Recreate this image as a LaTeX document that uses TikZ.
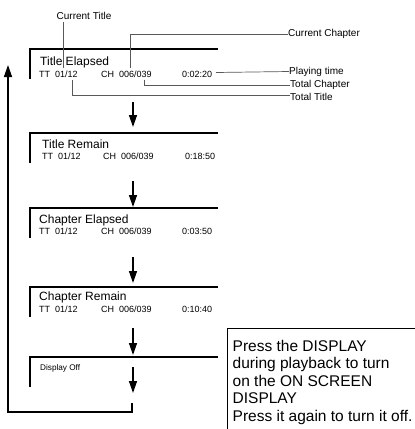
\documentclass[tikz,border=0pt]{standalone}
\usepackage{fontspec}
\setmainfont{Liberation Sans}
\usetikzlibrary{arrows.meta}
\begin{document}
\begin{tikzpicture}[x=1pt,y=-1pt,
 boxtop/.style={line width=2pt},
 boxside/.style={line width=1.4pt},
 flowarrow/.style={line width=1.4pt,-{Triangle[length=12pt,width=8pt]}},
 leader/.style={line width=0.7pt,draw=black!65},
 ttl/.style={anchor=base west,inner sep=0pt,font=\fontsize{12}{14}\selectfont},
 infotxt/.style={anchor=base west,inner sep=0pt,font=\fontsize{9}{11}\selectfont},
 smalltxt/.style={anchor=base west,inner sep=0pt,font=\fontsize{8.2}{10}\selectfont},
 lbl/.style={anchor=west,inner sep=0pt,font=\fontsize{10}{12}\selectfont},
 msg/.style={anchor=base west,inner sep=0pt,font=\fontsize{15.5}{17.5}\selectfont},
]
\useasboundingbox (0,0) rectangle (415,429);
\fill[white] (0,0) rectangle (415,429);

% ---- box 1: Title Elapsed
\draw[boxtop] (29.3,49) -- (218,49);
\draw[boxside] (30,49) -- (30,79);
\node[ttl] (t1) at (40,65) {Title Elapsed};
\node[infotxt] (tt1) at (39,77) {TT\ \ 01/12};
\node[infotxt] (ch1) at (101,77) {CH\ \ 006/039};
\node[infotxt] (tm1) at (182,77) {0:02:20};

% ---- box 2: Title Remain
\draw[boxtop] (29.3,133) -- (218,133);
\draw[boxside] (30,133) -- (30,163);
\node[ttl] (t2) at (42,148) {Title Remain};
\node[infotxt] (tt2) at (42,159) {TT\ \ 01/12};
\node[infotxt] (ch2) at (103,159) {CH\ \ 006/039};
\node[infotxt] (tm2) at (185,159) {0:18:50};

% ---- box 3: Chapter Elapsed
\draw[boxtop] (29.3,208) -- (218,208);
\draw[boxside] (30,208) -- (30,238);
\node[ttl] (t3) at (39,223) {Chapter Elapsed};
\node[infotxt] (tt3) at (39,234) {TT\ \ 01/12};
\node[infotxt] (ch3) at (101,234) {CH\ \ 006/039};
\node[infotxt] (tm3) at (182,234) {0:03:50};

% ---- box 4: Chapter Remain
\draw[boxtop] (29.3,287) -- (218,287);
\draw[boxside] (30,287) -- (30,317);
\node[ttl] (t4) at (39,300) {Chapter Remain};
\node[infotxt] (tt4) at (39,312) {TT\ \ 01/12};
\node[infotxt] (ch4) at (101,312) {CH\ \ 006/039};
\node[infotxt] (tm4) at (182,312) {0:10:40};

% ---- box 5: Display Off
\draw[boxtop] (29.3,357) -- (218,357);
\draw[boxside] (30,357) -- (30,387);
\node[smalltxt] (t5) at (40,370) {Display Off};

% ---- flow arrows
\coordinate (a1s) at (133,102); \coordinate (a1e) at (133,127);
\coordinate (a2s) at (133,181); \coordinate (a2e) at (133,207);
\coordinate (a3s) at (133,257); \coordinate (a3e) at (133,283);
\coordinate (a4s) at (133,328); \coordinate (a4e) at (133,355);
\coordinate (a5s) at (133,367); \coordinate (a5e) at (133,393);
\draw[flowarrow] (a1s) -- (a1e);
\draw[flowarrow] (a2s) -- (a2e);
\draw[flowarrow] (a3s) -- (a3e);
\draw[flowarrow] (a4s) -- (a4e);
\draw[flowarrow] (a5s) -- (a5e);

% ---- loop back
\coordinate (ls) at (132,403);
\coordinate (lc1) at (132,412);
\coordinate (lc2) at (8,412);
\coordinate (le) at (8,65);
\draw[flowarrow] (ls) -- (lc1) -- (lc2) -- (le);

% ---- leader labels
\node[lbl,anchor=center] (lct) at (84,16) {Current Title};
\node[lbl] (lcc) at (288,34) {Current Chapter};
\node[lbl] (lpt) at (289,71.5) {Playing time};
\node[lbl] (ltc) at (290,84.5) {Total Chapter};
\node[lbl] (ltt) at (290,96.5) {Total Title};

\coordinate (ct1) at (63,22); \coordinate (ct2) at (63,68);
\draw[leader] (ct1) -- (ct2);
\coordinate (cc1) at (130,68); \coordinate (cc2) at (130,34);
\draw[leader] (cc1) -- (cc2) -- (lcc.west);
\coordinate (pt1) at (216,72.5);
\draw[leader] (pt1) -- (lpt.west);
\coordinate (tc1) at (144.5,79.5); \coordinate (tc2) at (144.5,85);
\draw[leader] (tc1) -- (tc2) -- (ltc.west |- tc2);
\coordinate (ti1) at (72,79.5); \coordinate (ti2) at (72,95.5);
\draw[leader] (ti1) -- (ti2) -- (ltt.west |- ti2);

% ---- note box
\coordinate (nb1) at (227,432); \coordinate (nb2) at (227,328); \coordinate (nb3) at (418,328);
\draw[line width=1pt] (nb1) -- (nb2) -- (nb3);
\node[msg] (m1) at (232.5,351) {Press the DISPLAY};
\node[msg] (m2) at (232.5,368.5) {during playback to turn};
\node[msg] (m3) at (232.5,386) {on the ON SCREEN};
\node[msg] (m4) at (232.5,403.5) {DISPLAY};
\node[msg] (m5) at (232.5,421) {Press it again to turn it off.};
\end{tikzpicture}
\end{document}
